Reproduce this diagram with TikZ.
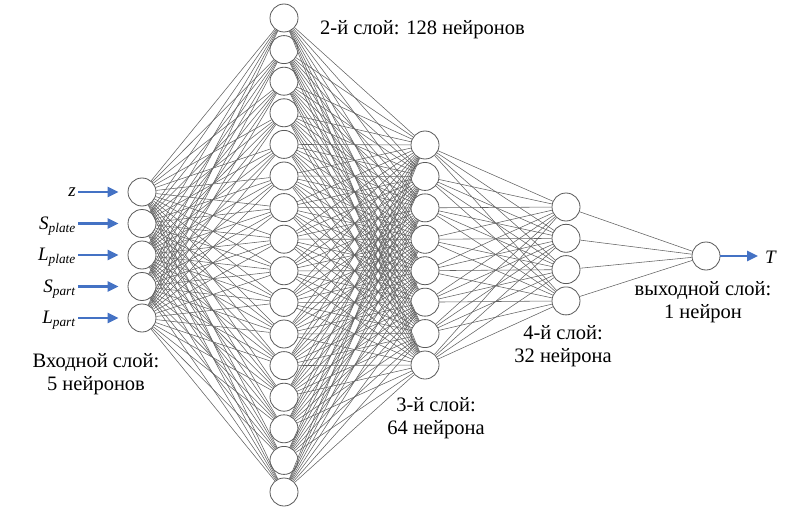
\documentclass[tikz,border=0pt]{standalone}
\usepackage{fontspec}
\setmainfont{Liberation Serif}
\usetikzlibrary{arrows.meta}
\definecolor{arrowblue}{HTML}{4472C4}
\begin{document}
\begin{tikzpicture}[x=1pt,y=-1pt,
  neuron/.style={circle,draw=black!65,fill=white,line width=0.8pt,minimum size=28pt,inner sep=0pt},
  conn/.style={draw=black!62,line width=0.55pt},
  blarrow/.style={draw=arrowblue,line width=2.6pt,-{Triangle[length=11pt,width=10pt]}},
  lbl/.style={font=\fontsize{20.5}{23}\selectfont,align=center,inner sep=0pt},
  inlbl/.style={font=\fontsize{19}{22}\selectfont,anchor=east,inner sep=0pt}]
\useasboundingbox (0,0) rectangle (808,508);
% neurons
\foreach \i in {1,...,5} \node[neuron] (a\i) at (142,{192+31.5*(\i-1)}) {};
\foreach \i in {1,...,16} \node[neuron] (b\i) at (284,{18+31.6*(\i-1)}) {};
\foreach \i in {1,...,8} \node[neuron] (c\i) at (425,{145+31.43*(\i-1)}) {};
\foreach \i in {1,...,4} \node[neuron] (d\i) at (566,{207+31.3*(\i-1)}) {};
\node[neuron] (e1) at (706,256) {};
% connections
\foreach \i in {1,...,5} \foreach \j in {1,...,16} \draw[conn] (a\i) -- (b\j);
\foreach \i in {1,...,16} \foreach \j in {1,...,8} \draw[conn] (b\i) -- (c\j);
\foreach \i in {1,...,8} \foreach \j in {1,...,4} \draw[conn] (c\i) -- (d\j);
\foreach \i in {1,...,4} \draw[conn] (d\i) -- (e1);
% inputs
\coordinate (s1) at (78,192);
\coordinate (s2) at (78,223.5);
\coordinate (s3) at (78,255);
\coordinate (s4) at (78,286.5);
\coordinate (s5) at (78,318);
\foreach \i in {1,...,5} \draw[blarrow,shorten >=9pt] (s\i) -- (a\i.west);
\node[inlbl] (l1) at (76,192) {\textit{z}};
\node[inlbl] (l2) at (76,226) {\textit{S}\textsubscript{\textit{plate}}};
\node[inlbl] (l3) at (76,257) {\textit{L}\textsubscript{\textit{plate}}};
\node[inlbl] (l4) at (76,289) {\textit{S}\textsubscript{\textit{part}}};
\node[inlbl] (l5) at (76,320) {\textit{L}\textsubscript{\textit{part}}};
% output
\coordinate (t0) at (758,256);
\draw[blarrow] (e1.east) -- (t0);
\node[font=\fontsize{19}{22}\selectfont,anchor=west,inner sep=0pt] (tl) at (765,257) {\textit{T}};
% labels
\node[lbl,anchor=west] (lb2) at (320,30) {2-й слой: 128 нейронов};
\node[lbl] (lb1) at (96,374) {Входной слой:\\5 нейронов};
\node[lbl] (lb3) at (436,418) {3-й слой:\\64 нейрона};
\node[lbl] (lb4) at (563,346) {4-й слой:\\32 нейрона};
\node[lbl] (lb5) at (703,302) {выходной слой:\\1 нейрон};
\end{tikzpicture}
\end{document}
